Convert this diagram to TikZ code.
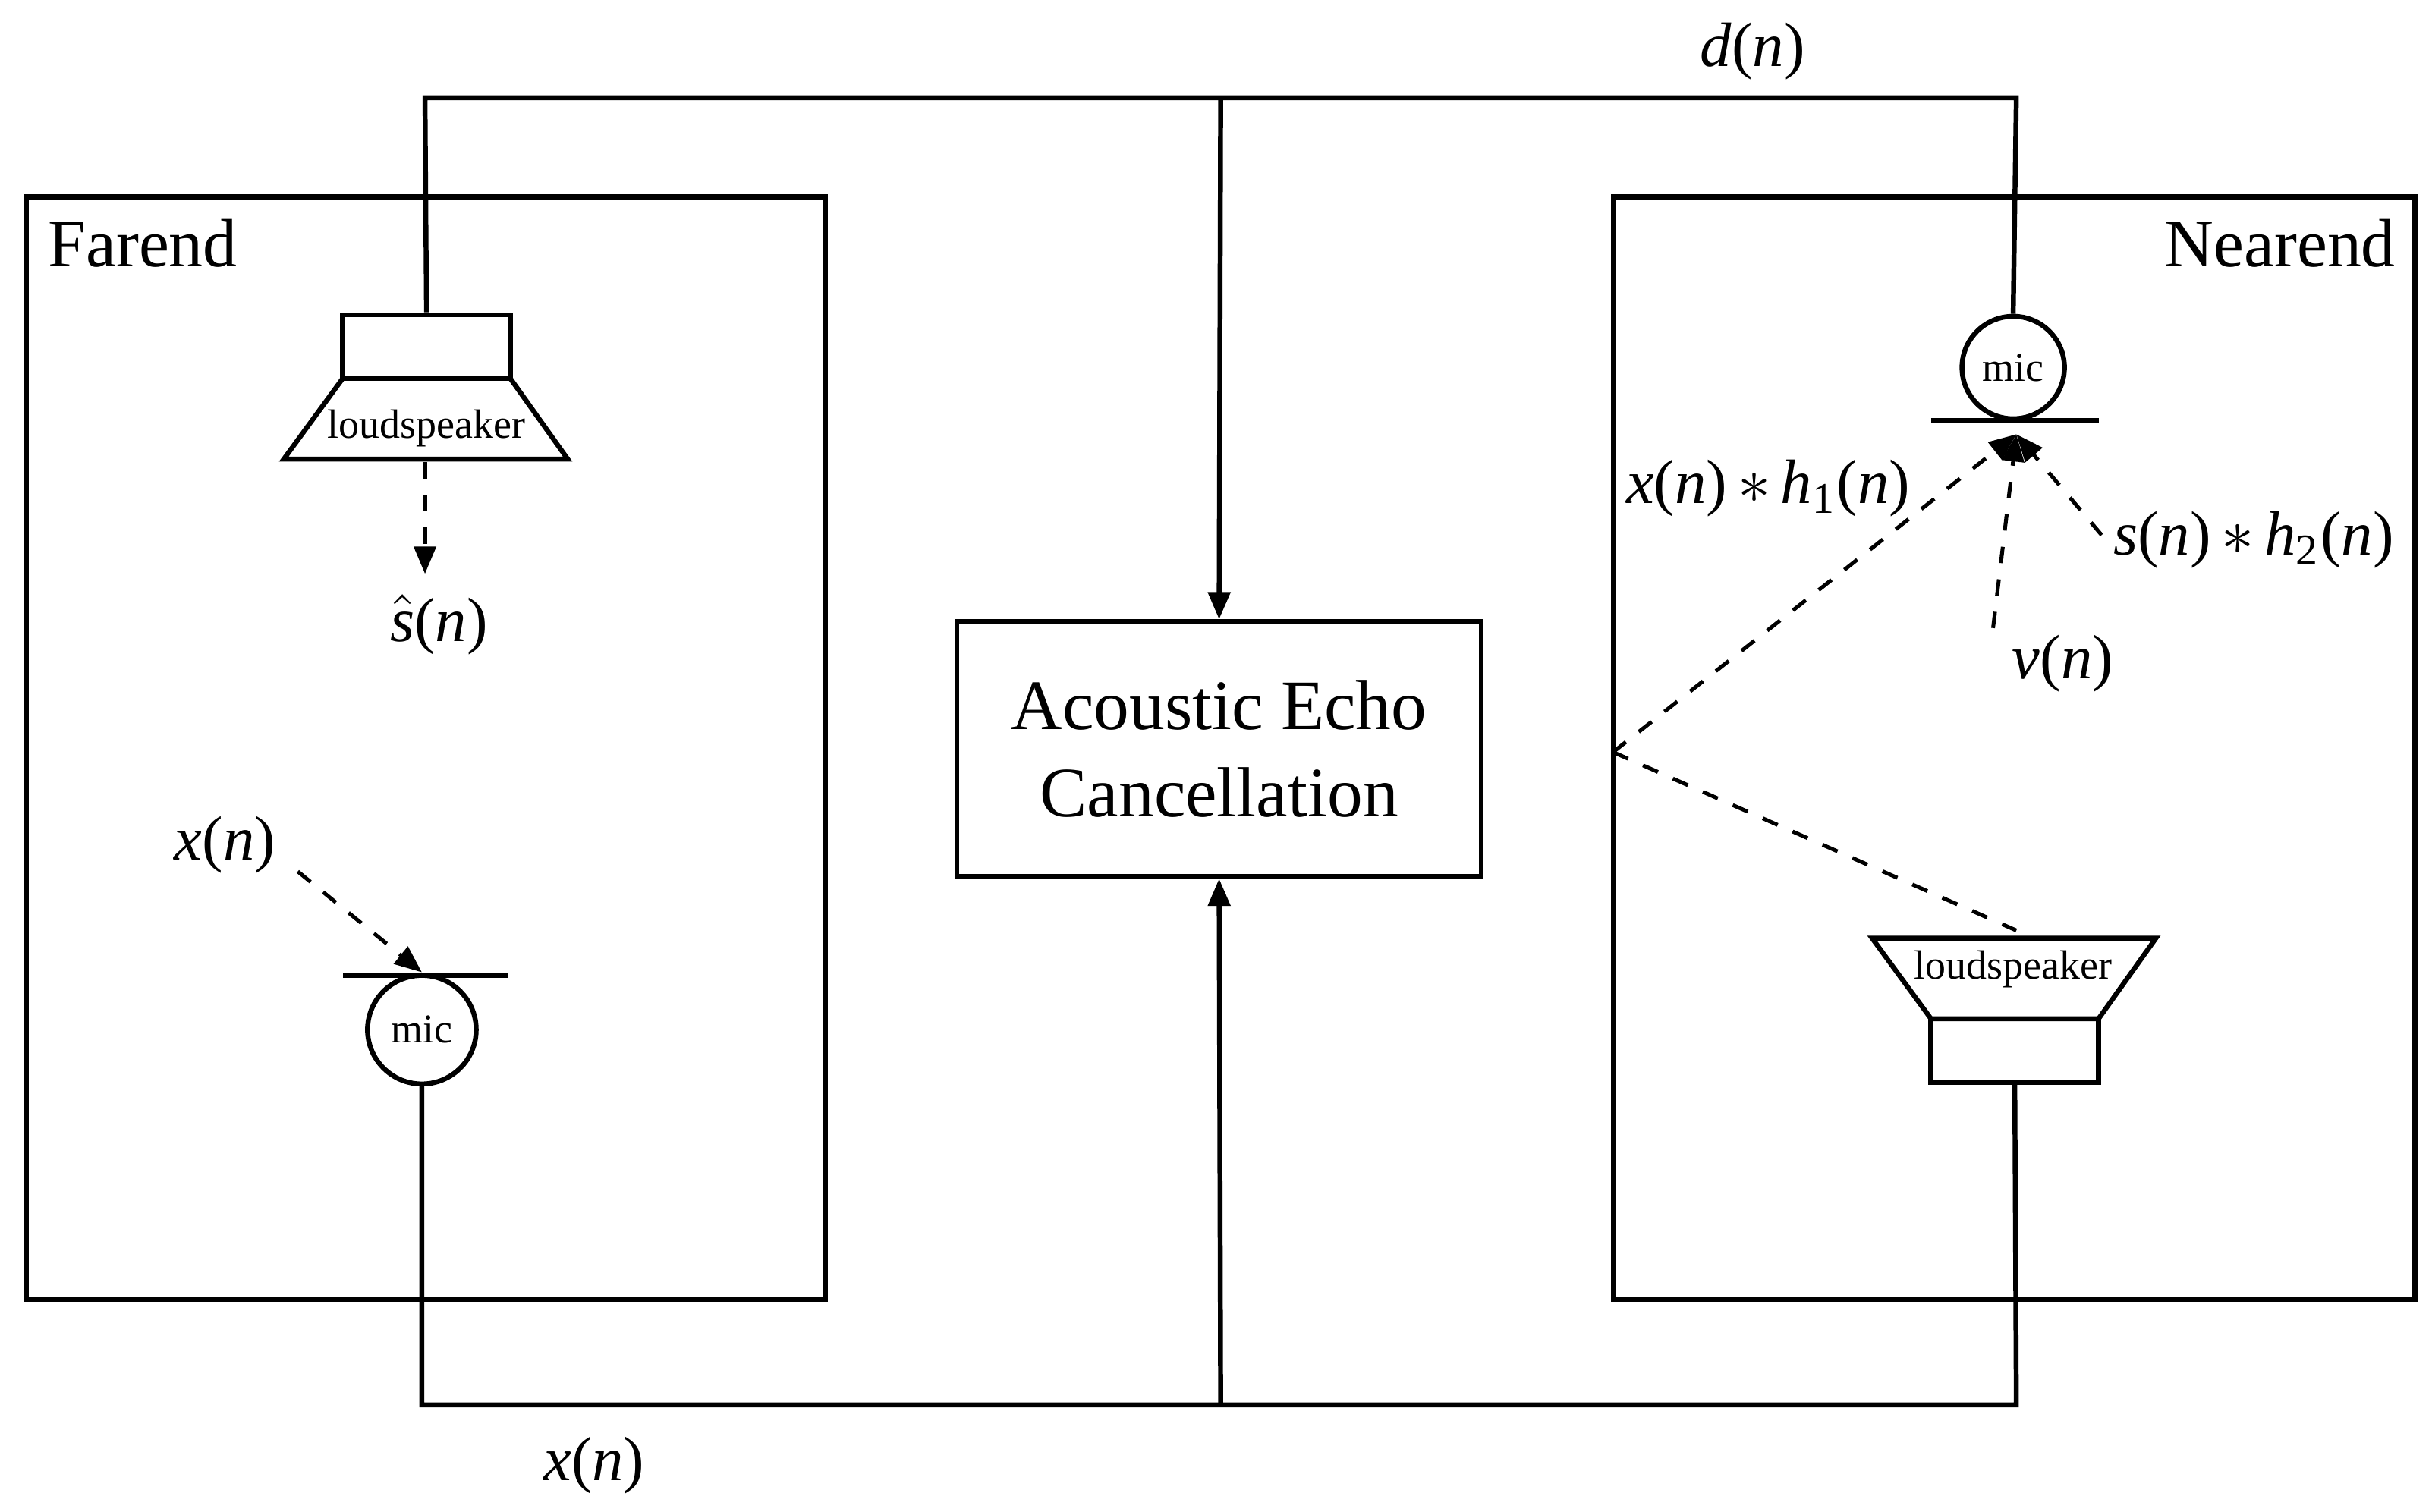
\documentclass[tikz,border=0pt]{standalone}
\usepackage{fontspec}
\setmainfont{Liberation Serif}
\usetikzlibrary{arrows.meta}
\newcommand{\vi}[1]{\textit{#1}}
\begin{document}
\begin{tikzpicture}[x=0.01cm,y=-0.01cm,line width=0.9pt,
  lab/.style={font=\fontsize{11.5}{14}\selectfont},
  small/.style={font=\fontsize{7.5}{9}\selectfont},
  arr/.style={-{Triangle[length=5pt,width=4pt]}},
  dsh/.style={dashed,line width=0.7pt}]
\useasboundingbox (0,0) rectangle (1568,975);
% boxes
\draw (17,127) rectangle (532,838);
\draw (1040,127) rectangle (1557,838);
\node[draw,minimum width=3.38cm,minimum height=1.64cm,align=center,font=\fontsize{13}{16}\selectfont] (aec) at (786,483) {Acoustic Echo\\Cancellation};
\node[font=\fontsize{12.5}{15}\selectfont] (fe) at (92,157) {Farend};
\node[font=\fontsize{12.5}{15}\selectfont] (ne) at (1470,157) {Nearend};
% farend loudspeaker
\node[draw,minimum width=1.08cm,minimum height=0.41cm,inner sep=0] (fls) at (275,223.5) {};
\draw (221,244) -- (183,296) -- (366,296) -- (329,244);
\node[small] (flst) at (275,276) {loudspeaker};
\coordinate (fsb) at (274,298);
\node[lab] (sh) at (283,403) {$\hat{\mbox{\vi{s}}}$(\vi{n})};
\draw[dsh,arr] (fsb) -- (274,370);
% farend mic
\node[draw,circle,minimum size=0.7cm,inner sep=0,small] (fmic) at (272,664) {mic};
\draw (221,629) -- (328,629);
\node[lab] (xf) at (145,545) {\vi{x}(\vi{n})};
\draw[dsh,arr] (192,562) -- (272,627);
% nearend mic
\node[draw,circle,minimum size=0.66cm,inner sep=0,small] (nmic) at (1298,237) {mic};
\draw (1245,271) -- (1353,271);
\coordinate (tgt) at (1300,280);
% nearend loudspeaker
\draw (1207,605) -- (1390,605) -- (1353,657) -- (1245,657) -- cycle;
\node[small] (nlst) at (1298,625) {loudspeaker};
\node[draw,minimum width=1.08cm,minimum height=0.41cm,inner sep=0] (nls) at (1299,677.5) {};
% wires
\coordinate (tl) at (274,63); \coordinate (tr) at (1300,63); \coordinate (tm) at (787,63);
\draw (fls.north) -- (tl) -- (tr) -- (nmic.north);
\draw[arr] (tm) -- (aec.north);
\coordinate (bl) at (272,906); \coordinate (br) at (1300,906); \coordinate (bm) at (787,906);
\draw (fmic.south) -- (bl) -- (br) -- (nls.south);
\draw[arr] (bm) -- (aec.south);
\node[lab] (dn) at (1130,33) {\vi{d}(\vi{n})};
\node[lab] (xb) at (383,945) {\vi{x}(\vi{n})};
% echo paths
\coordinate (refl) at (1040,485);
\draw[dsh,arr] (refl) -- (tgt);
\draw[dsh] (refl) -- (1300,600);
\draw[dsh,arr] (1285,405) -- (tgt);
\draw[dsh,arr] (1355,345) -- (tgt);
\node[lab] (l1) at (1140,315) {\vi{x}(\vi{n})\,$*$\,\vi{h}\textsubscript{1}(\vi{n})};
\node[lab] (l2) at (1453,348) {\vi{s}(\vi{n})\,$*$\,\vi{h}\textsubscript{2}(\vi{n})};
\node[lab] (l3) at (1330,428) {\vi{v}(\vi{n})};
\end{tikzpicture}
\end{document}
